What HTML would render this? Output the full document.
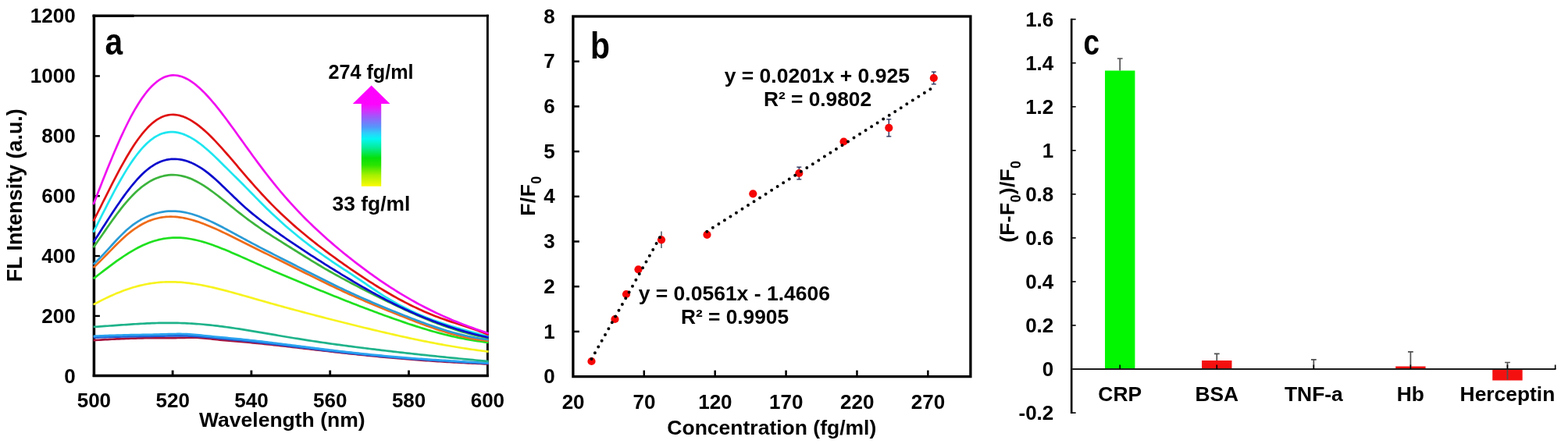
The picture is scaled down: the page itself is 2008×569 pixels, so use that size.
<!DOCTYPE html>
<html lang="en">
<head>
<meta charset="utf-8">
<title>Figure</title>
<style>
html,body{margin:0;padding:0;background:#fff;}
body{width:2008px;height:569px;overflow:hidden;}
svg{display:block;font-family:"Liberation Sans", sans-serif;}
text{fill:#000;}
</style>
</head>
<body>
<svg width="2008" height="569" viewBox="0 0 2008 569">
<rect width="2008" height="569" fill="#fff"/>
<g stroke="#000" fill="none" stroke-linecap="butt">
<line x1="120.4" y1="18.8" x2="120.4" y2="483.1" stroke-width="3.5"/>
<line x1="118.7" y1="481.5" x2="625.8" y2="481.5" stroke-width="3.4"/>
<line x1="624.4" y1="18.8" x2="624.4" y2="483.1" stroke-width="2.9"/>
<line x1="118.7" y1="20.2" x2="625.8" y2="20.2" stroke-width="2.7"/>
<line x1="118.7" y1="20.4" x2="171.5" y2="20.4" stroke-width="3.2"/>
</g>
<g stroke="#000" stroke-width="2.4">
<line x1="120.6" x2="127.89999999999999" y1="404.93" y2="404.93"/>
<line x1="120.6" x2="127.89999999999999" y1="328.07" y2="328.07"/>
<line x1="120.6" x2="127.89999999999999" y1="251.20" y2="251.20"/>
<line x1="120.6" x2="127.89999999999999" y1="174.33" y2="174.33"/>
<line x1="120.6" x2="127.89999999999999" y1="97.47" y2="97.47"/>
<line x1="221.10" x2="221.10" y1="481.4" y2="474.59999999999997" stroke-width="2.8"/>
<line x1="321.90" x2="321.90" y1="481.4" y2="474.59999999999997" stroke-width="2.8"/>
<line x1="422.70" x2="422.70" y1="481.4" y2="474.59999999999997" stroke-width="2.8"/>
<line x1="523.50" x2="523.50" y1="481.4" y2="474.59999999999997" stroke-width="2.8"/>
</g>
<g fill="none" stroke-width="2.7" stroke-linejoin="round" stroke-linecap="butt">
<path d="M119.6,436.14 L122.6,435.94 L125.6,435.76 L128.6,435.57 L131.6,435.40 L134.6,435.22 L137.6,435.06 L140.6,434.90 L143.6,434.74 L146.6,434.59 L149.6,434.45 L152.6,434.31 L155.6,434.18 L158.6,434.06 L161.6,433.94 L164.6,433.83 L167.6,433.72 L170.6,433.63 L173.6,433.54 L176.6,433.46 L179.6,433.39 L182.6,433.32 L185.6,433.26 L188.6,433.21 L191.6,433.17 L194.6,433.14 L197.6,433.11 L200.6,433.09 L203.6,433.08 L206.6,433.07 L209.6,433.07 L212.6,433.07 L215.6,433.08 L218.6,433.07 L221.6,433.07 L224.6,433.05 L227.6,433.01 L230.6,432.97 L233.6,432.90 L236.6,432.83 L239.6,432.76 L242.6,432.71 L245.6,432.68 L248.6,432.69 L251.6,432.75 L254.6,432.87 L257.6,433.06 L260.6,433.30 L263.6,433.59 L266.6,433.91 L269.6,434.24 L272.6,434.58 L275.6,434.91 L278.6,435.23 L281.6,435.54 L284.6,435.83 L287.6,436.10 L290.6,436.36 L293.6,436.62 L296.6,436.88 L299.6,437.13 L302.6,437.39 L305.6,437.65 L308.6,437.91 L311.6,438.18 L314.6,438.45 L317.6,438.73 L320.6,439.02 L323.6,439.31 L326.6,439.60 L329.6,439.90 L332.6,440.20 L335.6,440.51 L338.6,440.82 L341.6,441.14 L344.6,441.46 L347.6,441.78 L350.6,442.11 L353.6,442.44 L356.6,442.77 L359.6,443.10 L362.6,443.44 L365.6,443.78 L368.6,444.12 L371.6,444.46 L374.6,444.80 L377.6,445.15 L380.6,445.50 L383.6,445.84 L386.6,446.19 L389.6,446.54 L392.6,446.89 L395.6,447.24 L398.6,447.59 L401.6,447.94 L404.6,448.29 L407.6,448.64 L410.6,448.98 L413.6,449.33 L416.6,449.68 L419.6,450.02 L422.6,450.37 L425.6,450.71 L428.6,451.05 L431.6,451.39 L434.6,451.73 L437.6,452.06 L440.6,452.39 L443.6,452.73 L446.6,453.05 L449.6,453.38 L452.6,453.70 L455.6,454.02 L458.6,454.34 L461.6,454.66 L464.6,454.97 L467.6,455.28 L470.6,455.58 L473.6,455.89 L476.6,456.18 L479.6,456.48 L482.6,456.77 L485.6,457.06 L488.6,457.35 L491.6,457.63 L494.6,457.91 L497.6,458.18 L500.6,458.45 L503.6,458.72 L506.6,458.98 L509.6,459.24 L512.6,459.50 L515.6,459.75 L518.6,460.00 L521.6,460.24 L524.6,460.48 L527.6,460.72 L530.6,460.95 L533.6,461.18 L536.6,461.41 L539.6,461.63 L542.6,461.85 L545.6,462.06 L548.6,462.27 L551.6,462.48 L554.6,462.68 L557.6,462.88 L560.6,463.07 L563.6,463.26 L566.6,463.45 L569.6,463.64 L572.6,463.82 L575.6,464.00 L578.6,464.17 L581.6,464.34 L584.6,464.51 L587.6,464.67 L590.6,464.83 L593.6,464.99 L596.6,465.15 L599.6,465.30 L602.6,465.45 L605.6,465.59 L608.6,465.73 L611.6,465.87 L614.6,466.01 L617.6,466.14 L620.6,466.28 L623.6,466.40 L625.6,466.49" stroke="#a5123c"/>
<path d="M119.6,432.45 L122.6,432.36 L125.6,432.28 L128.6,432.19 L131.6,432.11 L134.6,432.03 L137.6,431.95 L140.6,431.87 L143.6,431.79 L146.6,431.71 L149.6,431.64 L152.6,431.56 L155.6,431.49 L158.6,431.43 L161.6,431.36 L164.6,431.30 L167.6,431.24 L170.6,431.19 L173.6,431.13 L176.6,431.08 L179.6,431.03 L182.6,430.99 L185.6,430.94 L188.6,430.90 L191.6,430.86 L194.6,430.81 L197.6,430.77 L200.6,430.72 L203.6,430.67 L206.6,430.62 L209.6,430.57 L212.6,430.52 L215.6,430.47 L218.6,430.42 L221.6,430.38 L224.6,430.35 L227.6,430.33 L230.6,430.33 L233.6,430.34 L236.6,430.38 L239.6,430.44 L242.6,430.53 L245.6,430.64 L248.6,430.79 L251.6,430.96 L254.6,431.15 L257.6,431.37 L260.6,431.61 L263.6,431.87 L266.6,432.14 L269.6,432.42 L272.6,432.71 L275.6,433.00 L278.6,433.30 L281.6,433.60 L284.6,433.90 L287.6,434.20 L290.6,434.49 L293.6,434.79 L296.6,435.09 L299.6,435.38 L302.6,435.68 L305.6,435.98 L308.6,436.28 L311.6,436.58 L314.6,436.89 L317.6,437.20 L320.6,437.52 L323.6,437.84 L326.6,438.16 L329.6,438.49 L332.6,438.82 L335.6,439.16 L338.6,439.50 L341.6,439.84 L344.6,440.19 L347.6,440.54 L350.6,440.90 L353.6,441.25 L356.6,441.61 L359.6,441.97 L362.6,442.34 L365.6,442.70 L368.6,443.07 L371.6,443.44 L374.6,443.81 L377.6,444.18 L380.6,444.55 L383.6,444.92 L386.6,445.29 L389.6,445.66 L392.6,446.03 L395.6,446.40 L398.6,446.76 L401.6,447.13 L404.6,447.50 L407.6,447.86 L410.6,448.22 L413.6,448.58 L416.6,448.94 L419.6,449.30 L422.6,449.65 L425.6,450.00 L428.6,450.35 L431.6,450.69 L434.6,451.03 L437.6,451.37 L440.6,451.71 L443.6,452.04 L446.6,452.37 L449.6,452.70 L452.6,453.02 L455.6,453.34 L458.6,453.65 L461.6,453.96 L464.6,454.27 L467.6,454.57 L470.6,454.87 L473.6,455.17 L476.6,455.46 L479.6,455.75 L482.6,456.03 L485.6,456.31 L488.6,456.59 L491.6,456.86 L494.6,457.13 L497.6,457.39 L500.6,457.65 L503.6,457.91 L506.6,458.16 L509.6,458.41 L512.6,458.66 L515.6,458.90 L518.6,459.14 L521.6,459.37 L524.6,459.60 L527.6,459.83 L530.6,460.06 L533.6,460.28 L536.6,460.50 L539.6,460.71 L542.6,460.92 L545.6,461.13 L548.6,461.34 L551.6,461.54 L554.6,461.74 L557.6,461.94 L560.6,462.13 L563.6,462.33 L566.6,462.52 L569.6,462.70 L572.6,462.89 L575.6,463.07 L578.6,463.25 L581.6,463.43 L584.6,463.61 L587.6,463.78 L590.6,463.95 L593.6,464.12 L596.6,464.29 L599.6,464.46 L602.6,464.62 L605.6,464.79 L608.6,464.95 L611.6,465.11 L614.6,465.27 L617.6,465.42 L620.6,465.58 L623.6,465.73 L625.6,465.84" stroke="#1f5fd6"/>
<path d="M119.6,430.73 L122.6,430.62 L125.6,430.50 L128.6,430.39 L131.6,430.28 L134.6,430.17 L137.6,430.07 L140.6,429.97 L143.6,429.87 L146.6,429.77 L149.6,429.68 L152.6,429.59 L155.6,429.50 L158.6,429.42 L161.6,429.35 L164.6,429.27 L167.6,429.21 L170.6,429.14 L173.6,429.08 L176.6,429.03 L179.6,428.98 L182.6,428.93 L185.6,428.88 L188.6,428.83 L191.6,428.78 L194.6,428.73 L197.6,428.67 L200.6,428.61 L203.6,428.54 L206.6,428.46 L209.6,428.37 L212.6,428.29 L215.6,428.20 L218.6,428.11 L221.6,428.04 L224.6,427.99 L227.6,427.96 L230.6,427.97 L233.6,428.01 L236.6,428.09 L239.6,428.22 L242.6,428.39 L245.6,428.60 L248.6,428.84 L251.6,429.11 L254.6,429.40 L257.6,429.71 L260.6,430.02 L263.6,430.33 L266.6,430.65 L269.6,430.95 L272.6,431.26 L275.6,431.55 L278.6,431.84 L281.6,432.12 L284.6,432.40 L287.6,432.68 L290.6,432.96 L293.6,433.24 L296.6,433.53 L299.6,433.82 L302.6,434.11 L305.6,434.41 L308.6,434.71 L311.6,435.02 L314.6,435.34 L317.6,435.66 L320.6,435.99 L323.6,436.32 L326.6,436.65 L329.6,437.00 L332.6,437.34 L335.6,437.69 L338.6,438.05 L341.6,438.41 L344.6,438.77 L347.6,439.13 L350.6,439.50 L353.6,439.87 L356.6,440.24 L359.6,440.62 L362.6,441.00 L365.6,441.38 L368.6,441.76 L371.6,442.14 L374.6,442.52 L377.6,442.90 L380.6,443.28 L383.6,443.67 L386.6,444.05 L389.6,444.43 L392.6,444.81 L395.6,445.19 L398.6,445.57 L401.6,445.95 L404.6,446.33 L407.6,446.71 L410.6,447.08 L413.6,447.45 L416.6,447.82 L419.6,448.19 L422.6,448.55 L425.6,448.91 L428.6,449.27 L431.6,449.63 L434.6,449.98 L437.6,450.33 L440.6,450.68 L443.6,451.02 L446.6,451.36 L449.6,451.70 L452.6,452.03 L455.6,452.36 L458.6,452.68 L461.6,453.00 L464.6,453.32 L467.6,453.63 L470.6,453.94 L473.6,454.25 L476.6,454.55 L479.6,454.85 L482.6,455.14 L485.6,455.43 L488.6,455.71 L491.6,455.99 L494.6,456.27 L497.6,456.54 L500.6,456.81 L503.6,457.08 L506.6,457.34 L509.6,457.59 L512.6,457.85 L515.6,458.09 L518.6,458.34 L521.6,458.58 L524.6,458.82 L527.6,459.05 L530.6,459.28 L533.6,459.51 L536.6,459.73 L539.6,459.95 L542.6,460.17 L545.6,460.38 L548.6,460.59 L551.6,460.80 L554.6,461.00 L557.6,461.20 L560.6,461.40 L563.6,461.59 L566.6,461.79 L569.6,461.97 L572.6,462.16 L575.6,462.34 L578.6,462.53 L581.6,462.70 L584.6,462.88 L587.6,463.05 L590.6,463.23 L593.6,463.40 L596.6,463.56 L599.6,463.73 L602.6,463.89 L605.6,464.05 L608.6,464.21 L611.6,464.37 L614.6,464.53 L617.6,464.68 L620.6,464.83 L623.6,464.98 L625.6,465.08" stroke="#2aa3f0"/>
<path d="M119.6,418.93 L122.6,418.74 L125.6,418.55 L128.6,418.35 L131.6,418.14 L134.6,417.94 L137.6,417.73 L140.6,417.51 L143.6,417.30 L146.6,417.08 L149.6,416.87 L152.6,416.66 L155.6,416.44 L158.6,416.23 L161.6,416.03 L164.6,415.82 L167.6,415.63 L170.6,415.43 L173.6,415.25 L176.6,415.07 L179.6,414.90 L182.6,414.74 L185.6,414.59 L188.6,414.45 L191.6,414.32 L194.6,414.20 L197.6,414.10 L200.6,414.01 L203.6,413.93 L206.6,413.87 L209.6,413.83 L212.6,413.80 L215.6,413.79 L218.6,413.79 L221.6,413.81 L224.6,413.85 L227.6,413.91 L230.6,413.99 L233.6,414.08 L236.6,414.19 L239.6,414.33 L242.6,414.48 L245.6,414.65 L248.6,414.83 L251.6,415.04 L254.6,415.26 L257.6,415.51 L260.6,415.76 L263.6,416.04 L266.6,416.34 L269.6,416.65 L272.6,416.97 L275.6,417.31 L278.6,417.67 L281.6,418.04 L284.6,418.42 L287.6,418.82 L290.6,419.23 L293.6,419.65 L296.6,420.09 L299.6,420.53 L302.6,420.98 L305.6,421.44 L308.6,421.91 L311.6,422.39 L314.6,422.87 L317.6,423.36 L320.6,423.85 L323.6,424.35 L326.6,424.85 L329.6,425.36 L332.6,425.87 L335.6,426.38 L338.6,426.89 L341.6,427.40 L344.6,427.92 L347.6,428.43 L350.6,428.94 L353.6,429.45 L356.6,429.96 L359.6,430.47 L362.6,430.97 L365.6,431.48 L368.6,431.98 L371.6,432.47 L374.6,432.97 L377.6,433.46 L380.6,433.94 L383.6,434.42 L386.6,434.90 L389.6,435.37 L392.6,435.84 L395.6,436.31 L398.6,436.77 L401.6,437.23 L404.6,437.68 L407.6,438.12 L410.6,438.57 L413.6,439.01 L416.6,439.44 L419.6,439.87 L422.6,440.30 L425.6,440.72 L428.6,441.13 L431.6,441.55 L434.6,441.96 L437.6,442.36 L440.6,442.77 L443.6,443.17 L446.6,443.56 L449.6,443.95 L452.6,444.34 L455.6,444.73 L458.6,445.11 L461.6,445.49 L464.6,445.87 L467.6,446.24 L470.6,446.61 L473.6,446.98 L476.6,447.35 L479.6,447.71 L482.6,448.07 L485.6,448.43 L488.6,448.79 L491.6,449.14 L494.6,449.50 L497.6,449.85 L500.6,450.19 L503.6,450.54 L506.6,450.89 L509.6,451.23 L512.6,451.57 L515.6,451.91 L518.6,452.24 L521.6,452.58 L524.6,452.91 L527.6,453.24 L530.6,453.57 L533.6,453.90 L536.6,454.22 L539.6,454.55 L542.6,454.87 L545.6,455.19 L548.6,455.51 L551.6,455.82 L554.6,456.14 L557.6,456.45 L560.6,456.76 L563.6,457.07 L566.6,457.38 L569.6,457.68 L572.6,457.99 L575.6,458.29 L578.6,458.59 L581.6,458.89 L584.6,459.18 L587.6,459.48 L590.6,459.77 L593.6,460.06 L596.6,460.35 L599.6,460.64 L602.6,460.92 L605.6,461.21 L608.6,461.49 L611.6,461.77 L614.6,462.05 L617.6,462.32 L620.6,462.60 L623.6,462.87 L625.6,463.05" stroke="#1fb38a"/>
<path d="M119.6,390.38 L122.6,388.77 L125.6,387.19 L128.6,385.64 L131.6,384.13 L134.6,382.65 L137.6,381.21 L140.6,379.80 L143.6,378.44 L146.6,377.13 L149.6,375.85 L152.6,374.63 L155.6,373.45 L158.6,372.32 L161.6,371.24 L164.6,370.21 L167.6,369.24 L170.6,368.32 L173.6,367.45 L176.6,366.64 L179.6,365.89 L182.6,365.19 L185.6,364.55 L188.6,363.97 L191.6,363.44 L194.6,362.98 L197.6,362.57 L200.6,362.22 L203.6,361.92 L206.6,361.69 L209.6,361.51 L212.6,361.38 L215.6,361.31 L218.6,361.29 L221.6,361.32 L224.6,361.41 L227.6,361.54 L230.6,361.72 L233.6,361.95 L236.6,362.23 L239.6,362.55 L242.6,362.91 L245.6,363.31 L248.6,363.75 L251.6,364.22 L254.6,364.73 L257.6,365.28 L260.6,365.85 L263.6,366.46 L266.6,367.09 L269.6,367.74 L272.6,368.43 L275.6,369.13 L278.6,369.85 L281.6,370.59 L284.6,371.35 L287.6,372.13 L290.6,372.92 L293.6,373.72 L296.6,374.53 L299.6,375.35 L302.6,376.18 L305.6,377.02 L308.6,377.86 L311.6,378.71 L314.6,379.56 L317.6,380.41 L320.6,381.26 L323.6,382.12 L326.6,382.98 L329.6,383.84 L332.6,384.69 L335.6,385.55 L338.6,386.40 L341.6,387.25 L344.6,388.10 L347.6,388.94 L350.6,389.79 L353.6,390.62 L356.6,391.46 L359.6,392.29 L362.6,393.12 L365.6,393.94 L368.6,394.77 L371.6,395.58 L374.6,396.40 L377.6,397.21 L380.6,398.01 L383.6,398.81 L386.6,399.61 L389.6,400.41 L392.6,401.20 L395.6,401.99 L398.6,402.78 L401.6,403.56 L404.6,404.34 L407.6,405.12 L410.6,405.90 L413.6,406.67 L416.6,407.44 L419.6,408.21 L422.6,408.97 L425.6,409.74 L428.6,410.50 L431.6,411.26 L434.6,412.02 L437.6,412.77 L440.6,413.52 L443.6,414.27 L446.6,415.02 L449.6,415.77 L452.6,416.51 L455.6,417.25 L458.6,417.99 L461.6,418.72 L464.6,419.46 L467.6,420.19 L470.6,420.91 L473.6,421.64 L476.6,422.36 L479.6,423.08 L482.6,423.79 L485.6,424.50 L488.6,425.21 L491.6,425.91 L494.6,426.61 L497.6,427.30 L500.6,427.99 L503.6,428.68 L506.6,429.36 L509.6,430.03 L512.6,430.70 L515.6,431.36 L518.6,432.02 L521.6,432.68 L524.6,433.32 L527.6,433.96 L530.6,434.60 L533.6,435.23 L536.6,435.85 L539.6,436.46 L542.6,437.07 L545.6,437.67 L548.6,438.27 L551.6,438.85 L554.6,439.43 L557.6,440.00 L560.6,440.57 L563.6,441.12 L566.6,441.67 L569.6,442.21 L572.6,442.74 L575.6,443.26 L578.6,443.77 L581.6,444.28 L584.6,444.78 L587.6,445.26 L590.6,445.74 L593.6,446.21 L596.6,446.67 L599.6,447.12 L602.6,447.56 L605.6,447.99 L608.6,448.42 L611.6,448.83 L614.6,449.23 L617.6,449.63 L620.6,450.01 L623.6,450.38 L625.6,450.63" stroke="#f7f320"/>
<path d="M119.6,357.19 L122.6,354.87 L125.6,352.54 L128.6,350.22 L131.6,347.90 L134.6,345.60 L137.6,343.31 L140.6,341.05 L143.6,338.82 L146.6,336.62 L149.6,334.45 L152.6,332.34 L155.6,330.27 L158.6,328.25 L161.6,326.29 L164.6,324.40 L167.6,322.57 L170.6,320.82 L173.6,319.14 L176.6,317.54 L179.6,316.02 L182.6,314.59 L185.6,313.25 L188.6,312.00 L191.6,310.84 L194.6,309.78 L197.6,308.81 L200.6,307.95 L203.6,307.18 L206.6,306.51 L209.6,305.95 L212.6,305.48 L215.6,305.11 L218.6,304.84 L221.6,304.66 L224.6,304.58 L227.6,304.59 L230.6,304.70 L233.6,304.89 L236.6,305.17 L239.6,305.53 L242.6,305.98 L245.6,306.50 L248.6,307.09 L251.6,307.75 L254.6,308.48 L257.6,309.27 L260.6,310.13 L263.6,311.04 L266.6,311.99 L269.6,313.00 L272.6,314.05 L275.6,315.15 L278.6,316.28 L281.6,317.44 L284.6,318.63 L287.6,319.85 L290.6,321.09 L293.6,322.36 L296.6,323.64 L299.6,324.93 L302.6,326.24 L305.6,327.56 L308.6,328.88 L311.6,330.21 L314.6,331.55 L317.6,332.89 L320.6,334.22 L323.6,335.56 L326.6,336.89 L329.6,338.23 L332.6,339.55 L335.6,340.88 L338.6,342.20 L341.6,343.51 L344.6,344.82 L347.6,346.12 L350.6,347.41 L353.6,348.70 L356.6,349.99 L359.6,351.27 L362.6,352.54 L365.6,353.81 L368.6,355.07 L371.6,356.33 L374.6,357.58 L377.6,358.84 L380.6,360.08 L383.6,361.33 L386.6,362.57 L389.6,363.80 L392.6,365.04 L395.6,366.27 L398.6,367.50 L401.6,368.73 L404.6,369.95 L407.6,371.17 L410.6,372.40 L413.6,373.61 L416.6,374.83 L419.6,376.04 L422.6,377.26 L425.6,378.47 L428.6,379.67 L431.6,380.87 L434.6,382.07 L437.6,383.27 L440.6,384.46 L443.6,385.65 L446.6,386.83 L449.6,388.00 L452.6,389.18 L455.6,390.34 L458.6,391.51 L461.6,392.66 L464.6,393.81 L467.6,394.96 L470.6,396.10 L473.6,397.23 L476.6,398.36 L479.6,399.48 L482.6,400.60 L485.6,401.71 L488.6,402.81 L491.6,403.90 L494.6,404.99 L497.6,406.07 L500.6,407.14 L503.6,408.20 L506.6,409.26 L509.6,410.30 L512.6,411.34 L515.6,412.37 L518.6,413.39 L521.6,414.41 L524.6,415.41 L527.6,416.40 L530.6,417.38 L533.6,418.34 L536.6,419.29 L539.6,420.23 L542.6,421.15 L545.6,422.06 L548.6,422.95 L551.6,423.83 L554.6,424.69 L557.6,425.52 L560.6,426.35 L563.6,427.15 L566.6,427.93 L569.6,428.69 L572.6,429.43 L575.6,430.16 L578.6,430.85 L581.6,431.53 L584.6,432.19 L587.6,432.82 L590.6,433.43 L593.6,434.02 L596.6,434.59 L599.6,435.13 L602.6,435.65 L605.6,436.15 L608.6,436.63 L611.6,437.09 L614.6,437.52 L617.6,437.94 L620.6,438.33 L623.6,438.71 L625.6,438.95" stroke="#1fe01f"/>
<path d="M119.6,342.97 L122.6,340.18 L125.6,337.31 L128.6,334.35 L131.6,331.35 L134.6,328.30 L137.6,325.23 L140.6,322.15 L143.6,319.08 L146.6,316.05 L149.6,313.05 L152.6,310.11 L155.6,307.26 L158.6,304.49 L161.6,301.83 L164.6,299.29 L167.6,296.89 L170.6,294.64 L173.6,292.52 L176.6,290.55 L179.6,288.73 L182.6,287.05 L185.6,285.51 L188.6,284.11 L191.6,282.86 L194.6,281.75 L197.6,280.77 L200.6,279.94 L203.6,279.24 L206.6,278.68 L209.6,278.24 L212.6,277.94 L215.6,277.75 L218.6,277.69 L221.6,277.74 L224.6,277.91 L227.6,278.18 L230.6,278.56 L233.6,279.03 L236.6,279.59 L239.6,280.24 L242.6,280.97 L245.6,281.77 L248.6,282.65 L251.6,283.59 L254.6,284.59 L257.6,285.66 L260.6,286.78 L263.6,287.94 L266.6,289.16 L269.6,290.41 L272.6,291.71 L275.6,293.03 L278.6,294.39 L281.6,295.77 L284.6,297.18 L287.6,298.61 L290.6,300.05 L293.6,301.51 L296.6,302.98 L299.6,304.46 L302.6,305.95 L305.6,307.45 L308.6,308.94 L311.6,310.44 L314.6,311.95 L317.6,313.45 L320.6,314.95 L323.6,316.45 L326.6,317.95 L329.6,319.44 L332.6,320.94 L335.6,322.43 L338.6,323.92 L341.6,325.40 L344.6,326.89 L347.6,328.37 L350.6,329.85 L353.6,331.33 L356.6,332.81 L359.6,334.29 L362.6,335.78 L365.6,337.26 L368.6,338.74 L371.6,340.23 L374.6,341.72 L377.6,343.21 L380.6,344.70 L383.6,346.19 L386.6,347.68 L389.6,349.18 L392.6,350.67 L395.6,352.16 L398.6,353.64 L401.6,355.13 L404.6,356.61 L407.6,358.09 L410.6,359.57 L413.6,361.04 L416.6,362.51 L419.6,363.97 L422.6,365.42 L425.6,366.86 L428.6,368.30 L431.6,369.72 L434.6,371.14 L437.6,372.54 L440.6,373.94 L443.6,375.32 L446.6,376.68 L449.6,378.03 L452.6,379.38 L455.6,380.71 L458.6,382.03 L461.6,383.34 L464.6,384.63 L467.6,385.92 L470.6,387.21 L473.6,388.48 L476.6,389.74 L479.6,391.00 L482.6,392.24 L485.6,393.48 L488.6,394.72 L491.6,395.94 L494.6,397.17 L497.6,398.38 L500.6,399.59 L503.6,400.80 L506.6,402.00 L509.6,403.20 L512.6,404.39 L515.6,405.59 L518.6,406.77 L521.6,407.96 L524.6,409.14 L527.6,410.31 L530.6,411.47 L533.6,412.63 L536.6,413.77 L539.6,414.90 L542.6,416.02 L545.6,417.12 L548.6,418.21 L551.6,419.28 L554.6,420.32 L557.6,421.35 L560.6,422.36 L563.6,423.35 L566.6,424.31 L569.6,425.24 L572.6,426.15 L575.6,427.04 L578.6,427.89 L581.6,428.72 L584.6,429.51 L587.6,430.27 L590.6,431.00 L593.6,431.70 L596.6,432.36 L599.6,432.98 L602.6,433.57 L605.6,434.12 L608.6,434.63 L611.6,435.10 L614.6,435.53 L617.6,435.92 L620.6,436.27 L623.6,436.57 L625.6,436.74" stroke="#ef6c1a"/>
<path d="M119.6,338.83 L122.6,336.00 L125.6,333.05 L128.6,329.98 L131.6,326.82 L134.6,323.60 L137.6,320.33 L140.6,317.05 L143.6,313.76 L146.6,310.50 L149.6,307.29 L152.6,304.15 L155.6,301.10 L158.6,298.16 L161.6,295.36 L164.6,292.71 L167.6,290.24 L170.6,287.94 L173.6,285.82 L176.6,283.86 L179.6,282.05 L182.6,280.39 L185.6,278.88 L188.6,277.50 L191.6,276.24 L194.6,275.11 L197.6,274.11 L200.6,273.22 L203.6,272.47 L206.6,271.83 L209.6,271.33 L212.6,270.94 L215.6,270.68 L218.6,270.54 L221.6,270.52 L224.6,270.62 L227.6,270.83 L230.6,271.15 L233.6,271.58 L236.6,272.12 L239.6,272.75 L242.6,273.49 L245.6,274.31 L248.6,275.23 L251.6,276.22 L254.6,277.29 L257.6,278.44 L260.6,279.65 L263.6,280.91 L266.6,282.24 L269.6,283.61 L272.6,285.03 L275.6,286.49 L278.6,287.99 L281.6,289.52 L284.6,291.07 L287.6,292.65 L290.6,294.24 L293.6,295.85 L296.6,297.47 L299.6,299.09 L302.6,300.73 L305.6,302.36 L308.6,303.99 L311.6,305.62 L314.6,307.24 L317.6,308.86 L320.6,310.47 L323.6,312.07 L326.6,313.66 L329.6,315.24 L332.6,316.82 L335.6,318.38 L338.6,319.94 L341.6,321.49 L344.6,323.03 L347.6,324.57 L350.6,326.10 L353.6,327.63 L356.6,329.15 L359.6,330.68 L362.6,332.20 L365.6,333.72 L368.6,335.24 L371.6,336.77 L374.6,338.30 L377.6,339.82 L380.6,341.35 L383.6,342.88 L386.6,344.40 L389.6,345.93 L392.6,347.45 L395.6,348.98 L398.6,350.50 L401.6,352.02 L404.6,353.53 L407.6,355.05 L410.6,356.55 L413.6,358.06 L416.6,359.56 L419.6,361.05 L422.6,362.53 L425.6,364.01 L428.6,365.48 L431.6,366.94 L434.6,368.38 L437.6,369.82 L440.6,371.24 L443.6,372.65 L446.6,374.05 L449.6,375.44 L452.6,376.81 L455.6,378.17 L458.6,379.52 L461.6,380.86 L464.6,382.19 L467.6,383.50 L470.6,384.81 L473.6,386.11 L476.6,387.40 L479.6,388.68 L482.6,389.95 L485.6,391.21 L488.6,392.47 L491.6,393.72 L494.6,394.96 L497.6,396.19 L500.6,397.41 L503.6,398.63 L506.6,399.84 L509.6,401.05 L512.6,402.25 L515.6,403.45 L518.6,404.64 L521.6,405.83 L524.6,407.00 L527.6,408.17 L530.6,409.33 L533.6,410.48 L536.6,411.62 L539.6,412.74 L542.6,413.85 L545.6,414.94 L548.6,416.02 L551.6,417.08 L554.6,418.12 L557.6,419.15 L560.6,420.15 L563.6,421.13 L566.6,422.09 L569.6,423.03 L572.6,423.94 L575.6,424.83 L578.6,425.69 L581.6,426.53 L584.6,427.34 L587.6,428.12 L590.6,428.87 L593.6,429.60 L596.6,430.29 L599.6,430.95 L602.6,431.58 L605.6,432.17 L608.6,432.74 L611.6,433.26 L614.6,433.76 L617.6,434.22 L620.6,434.64 L623.6,435.02 L625.6,435.26" stroke="#2a9bd6"/>
<path d="M119.6,317.13 L122.6,312.88 L125.6,308.60 L128.6,304.29 L131.6,299.96 L134.6,295.63 L137.6,291.33 L140.6,287.05 L143.6,282.82 L146.6,278.66 L149.6,274.57 L152.6,270.58 L155.6,266.70 L158.6,262.95 L161.6,259.33 L164.6,255.87 L167.6,252.57 L170.6,249.45 L173.6,246.51 L176.6,243.75 L179.6,241.17 L182.6,238.77 L185.6,236.56 L188.6,234.54 L191.6,232.69 L194.6,231.04 L197.6,229.56 L200.6,228.27 L203.6,227.15 L206.6,226.21 L209.6,225.44 L212.6,224.85 L215.6,224.44 L218.6,224.20 L221.6,224.14 L224.6,224.25 L227.6,224.53 L230.6,224.98 L233.6,225.59 L236.6,226.37 L239.6,227.29 L242.6,228.37 L245.6,229.59 L248.6,230.96 L251.6,232.45 L254.6,234.08 L257.6,235.82 L260.6,237.67 L263.6,239.63 L266.6,241.67 L269.6,243.79 L272.6,245.97 L275.6,248.22 L278.6,250.52 L281.6,252.86 L284.6,255.23 L287.6,257.63 L290.6,260.04 L293.6,262.46 L296.6,264.88 L299.6,267.29 L302.6,269.69 L305.6,272.07 L308.6,274.43 L311.6,276.76 L314.6,279.05 L317.6,281.31 L320.6,283.52 L323.6,285.69 L326.6,287.83 L329.6,289.93 L332.6,292.00 L335.6,294.04 L338.6,296.04 L341.6,298.02 L344.6,299.97 L347.6,301.90 L350.6,303.82 L353.6,305.72 L356.6,307.60 L359.6,309.48 L362.6,311.36 L365.6,313.24 L368.6,315.11 L371.6,316.99 L374.6,318.87 L377.6,320.75 L380.6,322.63 L383.6,324.51 L386.6,326.38 L389.6,328.24 L392.6,330.10 L395.6,331.95 L398.6,333.79 L401.6,335.62 L404.6,337.44 L407.6,339.24 L410.6,341.03 L413.6,342.80 L416.6,344.55 L419.6,346.28 L422.6,347.99 L425.6,349.68 L428.6,351.36 L431.6,353.02 L434.6,354.67 L437.6,356.31 L440.6,357.93 L443.6,359.53 L446.6,361.13 L449.6,362.72 L452.6,364.29 L455.6,365.86 L458.6,367.41 L461.6,368.96 L464.6,370.50 L467.6,372.03 L470.6,373.55 L473.6,375.07 L476.6,376.57 L479.6,378.07 L482.6,379.57 L485.6,381.06 L488.6,382.54 L491.6,384.02 L494.6,385.49 L497.6,386.95 L500.6,388.41 L503.6,389.86 L506.6,391.30 L509.6,392.73 L512.6,394.15 L515.6,395.55 L518.6,396.95 L521.6,398.33 L524.6,399.69 L527.6,401.05 L530.6,402.38 L533.6,403.70 L536.6,405.00 L539.6,406.29 L542.6,407.55 L545.6,408.80 L548.6,410.03 L551.6,411.24 L554.6,412.42 L557.6,413.59 L560.6,414.73 L563.6,415.85 L566.6,416.95 L569.6,418.02 L572.6,419.07 L575.6,420.09 L578.6,421.09 L581.6,422.07 L584.6,423.02 L587.6,423.94 L590.6,424.84 L593.6,425.71 L596.6,426.55 L599.6,427.36 L602.6,428.15 L605.6,428.91 L608.6,429.64 L611.6,430.34 L614.6,431.02 L617.6,431.66 L620.6,432.28 L623.6,432.87 L625.6,433.24" stroke="#3cb43c"/>
<path d="M119.6,297.52 L122.6,291.58 L125.6,285.63 L128.6,279.67 L131.6,273.73 L134.6,267.81 L137.6,261.93 L140.6,256.11 L143.6,250.37 L146.6,244.72 L149.6,239.18 L152.6,233.76 L155.6,228.47 L158.6,223.34 L161.6,218.38 L164.6,213.60 L167.6,209.01 L170.6,204.63 L173.6,200.46 L176.6,196.53 L179.6,192.84 L182.6,189.40 L185.6,186.21 L188.6,183.30 L191.6,180.65 L194.6,178.29 L197.6,176.20 L200.6,174.39 L203.6,172.86 L206.6,171.59 L209.6,170.59 L212.6,169.86 L215.6,169.38 L218.6,169.15 L221.6,169.17 L224.6,169.42 L227.6,169.90 L230.6,170.60 L233.6,171.51 L236.6,172.62 L239.6,173.93 L242.6,175.42 L245.6,177.08 L248.6,178.91 L251.6,180.90 L254.6,183.03 L257.6,185.29 L260.6,187.68 L263.6,190.19 L266.6,192.80 L269.6,195.50 L272.6,198.28 L275.6,201.13 L278.6,204.03 L281.6,206.97 L284.6,209.94 L287.6,212.92 L290.6,215.91 L293.6,218.89 L296.6,221.87 L299.6,224.85 L302.6,227.83 L305.6,230.81 L308.6,233.81 L311.6,236.81 L314.6,239.84 L317.6,242.89 L320.6,245.95 L323.6,249.02 L326.6,252.09 L329.6,255.15 L332.6,258.20 L335.6,261.22 L338.6,264.21 L341.6,267.17 L344.6,270.09 L347.6,272.97 L350.6,275.80 L353.6,278.60 L356.6,281.36 L359.6,284.08 L362.6,286.75 L365.6,289.39 L368.6,291.99 L371.6,294.56 L374.6,297.09 L377.6,299.58 L380.6,302.04 L383.6,304.46 L386.6,306.85 L389.6,309.21 L392.6,311.54 L395.6,313.84 L398.6,316.10 L401.6,318.34 L404.6,320.55 L407.6,322.74 L410.6,324.89 L413.6,327.02 L416.6,329.12 L419.6,331.19 L422.6,333.25 L425.6,335.28 L428.6,337.30 L431.6,339.30 L434.6,341.29 L437.6,343.28 L440.6,345.26 L443.6,347.24 L446.6,349.21 L449.6,351.19 L452.6,353.18 L455.6,355.17 L458.6,357.17 L461.6,359.17 L464.6,361.20 L467.6,363.23 L470.6,365.28 L473.6,367.33 L476.6,369.37 L479.6,371.41 L482.6,373.42 L485.6,375.40 L488.6,377.36 L491.6,379.27 L494.6,381.14 L497.6,382.96 L500.6,384.74 L503.6,386.48 L506.6,388.18 L509.6,389.83 L512.6,391.45 L515.6,393.03 L518.6,394.56 L521.6,396.06 L524.6,397.52 L527.6,398.94 L530.6,400.32 L533.6,401.67 L536.6,402.98 L539.6,404.26 L542.6,405.51 L545.6,406.72 L548.6,407.90 L551.6,409.06 L554.6,410.18 L557.6,411.27 L560.6,412.34 L563.6,413.37 L566.6,414.39 L569.6,415.38 L572.6,416.35 L575.6,417.29 L578.6,418.22 L581.6,419.12 L584.6,420.01 L587.6,420.88 L590.6,421.74 L593.6,422.58 L596.6,423.41 L599.6,424.23 L602.6,425.04 L605.6,425.84 L608.6,426.64 L611.6,427.43 L614.6,428.21 L617.6,429.00 L620.6,429.79 L623.6,430.57 L625.6,431.10" stroke="#1fe6f0"/>
<path d="M119.6,310.46 L122.6,305.82 L125.6,301.17 L128.6,296.50 L131.6,291.83 L134.6,287.16 L137.6,282.51 L140.6,277.88 L143.6,273.30 L146.6,268.76 L149.6,264.29 L152.6,259.90 L155.6,255.59 L158.6,251.39 L161.6,247.30 L164.6,243.33 L167.6,239.50 L170.6,235.83 L173.6,232.31 L176.6,228.96 L179.6,225.80 L182.6,222.82 L185.6,220.05 L188.6,217.49 L191.6,215.14 L194.6,213.02 L197.6,211.11 L200.6,209.43 L203.6,207.98 L206.6,206.75 L209.6,205.73 L212.6,204.93 L215.6,204.35 L218.6,203.97 L221.6,203.79 L224.6,203.80 L227.6,204.00 L230.6,204.38 L233.6,204.93 L236.6,205.66 L239.6,206.56 L242.6,207.63 L245.6,208.87 L248.6,210.27 L251.6,211.84 L254.6,213.56 L257.6,215.43 L260.6,217.45 L263.6,219.62 L266.6,221.92 L269.6,224.35 L272.6,226.90 L275.6,229.54 L278.6,232.27 L281.6,235.06 L284.6,237.90 L287.6,240.79 L290.6,243.70 L293.6,246.62 L296.6,249.54 L299.6,252.45 L302.6,255.34 L305.6,258.20 L308.6,261.01 L311.6,263.76 L314.6,266.45 L317.6,269.08 L320.6,271.63 L323.6,274.12 L326.6,276.55 L329.6,278.93 L332.6,281.26 L335.6,283.55 L338.6,285.82 L341.6,288.06 L344.6,290.27 L347.6,292.47 L350.6,294.65 L353.6,296.81 L356.6,298.94 L359.6,301.06 L362.6,303.17 L365.6,305.25 L368.6,307.32 L371.6,309.37 L374.6,311.41 L377.6,313.43 L380.6,315.44 L383.6,317.44 L386.6,319.43 L389.6,321.41 L392.6,323.37 L395.6,325.33 L398.6,327.28 L401.6,329.22 L404.6,331.15 L407.6,333.07 L410.6,334.98 L413.6,336.89 L416.6,338.78 L419.6,340.67 L422.6,342.54 L425.6,344.41 L428.6,346.27 L431.6,348.12 L434.6,349.96 L437.6,351.79 L440.6,353.61 L443.6,355.42 L446.6,357.23 L449.6,359.02 L452.6,360.80 L455.6,362.57 L458.6,364.33 L461.6,366.08 L464.6,367.81 L467.6,369.53 L470.6,371.24 L473.6,372.93 L476.6,374.61 L479.6,376.27 L482.6,377.92 L485.6,379.55 L488.6,381.16 L491.6,382.75 L494.6,384.33 L497.6,385.88 L500.6,387.42 L503.6,388.93 L506.6,390.43 L509.6,391.90 L512.6,393.36 L515.6,394.79 L518.6,396.20 L521.6,397.59 L524.6,398.96 L527.6,400.31 L530.6,401.63 L533.6,402.94 L536.6,404.22 L539.6,405.48 L542.6,406.71 L545.6,407.93 L548.6,409.12 L551.6,410.29 L554.6,411.44 L557.6,412.56 L560.6,413.67 L563.6,414.75 L566.6,415.81 L569.6,416.84 L572.6,417.86 L575.6,418.86 L578.6,419.83 L581.6,420.78 L584.6,421.72 L587.6,422.63 L590.6,423.52 L593.6,424.39 L596.6,425.25 L599.6,426.08 L602.6,426.90 L605.6,427.70 L608.6,428.48 L611.6,429.24 L614.6,429.99 L617.6,430.72 L620.6,431.43 L623.6,432.13 L625.6,432.59" stroke="#0a0acd"/>
<path d="M119.6,283.35 L122.6,277.44 L125.6,271.50 L128.6,265.52 L131.6,259.52 L134.6,253.53 L137.6,247.55 L140.6,241.61 L143.6,235.71 L146.6,229.88 L149.6,224.13 L152.6,218.48 L155.6,212.95 L158.6,207.54 L161.6,202.29 L164.6,197.20 L167.6,192.29 L170.6,187.57 L173.6,183.05 L176.6,178.76 L179.6,174.71 L182.6,170.89 L185.6,167.34 L188.6,164.05 L191.6,161.04 L194.6,158.31 L197.6,155.87 L200.6,153.72 L203.6,151.86 L206.6,150.30 L209.6,149.04 L212.6,148.07 L215.6,147.39 L218.6,147.01 L221.6,146.90 L224.6,147.07 L227.6,147.50 L230.6,148.18 L233.6,149.10 L236.6,150.24 L239.6,151.59 L242.6,153.15 L245.6,154.89 L248.6,156.82 L251.6,158.91 L254.6,161.17 L257.6,163.58 L260.6,166.13 L263.6,168.81 L266.6,171.61 L269.6,174.53 L272.6,177.55 L275.6,180.65 L278.6,183.85 L281.6,187.11 L284.6,190.44 L287.6,193.82 L290.6,197.24 L293.6,200.71 L296.6,204.20 L299.6,207.72 L302.6,211.24 L305.6,214.77 L308.6,218.29 L311.6,221.81 L314.6,225.31 L317.6,228.79 L320.6,232.24 L323.6,235.66 L326.6,239.05 L329.6,242.40 L332.6,245.70 L335.6,248.97 L338.6,252.19 L341.6,255.37 L344.6,258.50 L347.6,261.58 L350.6,264.62 L353.6,267.60 L356.6,270.54 L359.6,273.44 L362.6,276.28 L365.6,279.09 L368.6,281.85 L371.6,284.57 L374.6,287.24 L377.6,289.88 L380.6,292.48 L383.6,295.04 L386.6,297.57 L389.6,300.07 L392.6,302.54 L395.6,304.97 L398.6,307.38 L401.6,309.76 L404.6,312.12 L407.6,314.45 L410.6,316.76 L413.6,319.05 L416.6,321.32 L419.6,323.57 L422.6,325.79 L425.6,328.00 L428.6,330.20 L431.6,332.37 L434.6,334.53 L437.6,336.67 L440.6,338.80 L443.6,340.91 L446.6,343.00 L449.6,345.08 L452.6,347.14 L455.6,349.18 L458.6,351.21 L461.6,353.22 L464.6,355.21 L467.6,357.18 L470.6,359.13 L473.6,361.06 L476.6,362.98 L479.6,364.87 L482.6,366.74 L485.6,368.59 L488.6,370.42 L491.6,372.23 L494.6,374.01 L497.6,375.77 L500.6,377.51 L503.6,379.22 L506.6,380.90 L509.6,382.56 L512.6,384.19 L515.6,385.79 L518.6,387.37 L521.6,388.92 L524.6,390.44 L527.6,391.93 L530.6,393.39 L533.6,394.83 L536.6,396.23 L539.6,397.60 L542.6,398.94 L545.6,400.25 L548.6,401.53 L551.6,402.77 L554.6,403.99 L557.6,405.17 L560.6,406.32 L563.6,407.44 L566.6,408.52 L569.6,409.58 L572.6,410.61 L575.6,411.61 L578.6,412.60 L581.6,413.58 L584.6,414.55 L587.6,415.51 L590.6,416.47 L593.6,417.43 L596.6,418.40 L599.6,419.39 L602.6,420.39 L605.6,421.41 L608.6,422.45 L611.6,423.53 L614.6,424.64 L617.6,425.79 L620.6,426.98 L623.6,428.22 L625.6,429.07" stroke="#e01212"/>
<path d="M119.6,262.02 L122.6,254.30 L125.6,246.60 L128.6,238.94 L131.6,231.33 L134.6,223.78 L137.6,216.31 L140.6,208.95 L143.6,201.69 L146.6,194.57 L149.6,187.60 L152.6,180.79 L155.6,174.16 L158.6,167.72 L161.6,161.50 L164.6,155.49 L167.6,149.72 L170.6,144.20 L173.6,138.94 L176.6,133.95 L179.6,129.25 L182.6,124.84 L185.6,120.73 L188.6,116.93 L191.6,113.44 L194.6,110.28 L197.6,107.43 L200.6,104.91 L203.6,102.72 L206.6,100.86 L209.6,99.32 L212.6,98.12 L215.6,97.24 L218.6,96.69 L221.6,96.45 L224.6,96.52 L227.6,96.90 L230.6,97.56 L233.6,98.50 L236.6,99.71 L239.6,101.19 L242.6,102.90 L245.6,104.86 L248.6,107.03 L251.6,109.41 L254.6,111.98 L257.6,114.73 L260.6,117.66 L263.6,120.74 L266.6,123.97 L269.6,127.34 L272.6,130.83 L275.6,134.43 L278.6,138.14 L281.6,141.94 L284.6,145.82 L287.6,149.77 L290.6,153.78 L293.6,157.84 L296.6,161.95 L299.6,166.08 L302.6,170.24 L305.6,174.42 L308.6,178.60 L311.6,182.79 L314.6,186.97 L317.6,191.15 L320.6,195.30 L323.6,199.44 L326.6,203.54 L329.6,207.62 L332.6,211.65 L335.6,215.65 L338.6,219.60 L341.6,223.50 L344.6,227.36 L347.6,231.16 L350.6,234.91 L353.6,238.61 L356.6,242.25 L359.6,245.83 L362.6,249.36 L365.6,252.83 L368.6,256.25 L371.6,259.61 L374.6,262.92 L377.6,266.17 L380.6,269.38 L383.6,272.53 L386.6,275.63 L389.6,278.69 L392.6,281.69 L395.6,284.66 L398.6,287.58 L401.6,290.45 L404.6,293.29 L407.6,296.09 L410.6,298.85 L413.6,301.58 L416.6,304.27 L419.6,306.92 L422.6,309.55 L425.6,312.14 L428.6,314.71 L431.6,317.24 L434.6,319.75 L437.6,322.23 L440.6,324.69 L443.6,327.12 L446.6,329.52 L449.6,331.90 L452.6,334.26 L455.6,336.59 L458.6,338.89 L461.6,341.18 L464.6,343.43 L467.6,345.67 L470.6,347.88 L473.6,350.06 L476.6,352.22 L479.6,354.36 L482.6,356.47 L485.6,358.55 L488.6,360.61 L491.6,362.64 L494.6,364.64 L497.6,366.61 L500.6,368.56 L503.6,370.48 L506.6,372.37 L509.6,374.24 L512.6,376.08 L515.6,377.89 L518.6,379.67 L521.6,381.43 L524.6,383.16 L527.6,384.87 L530.6,386.55 L533.6,388.20 L536.6,389.82 L539.6,391.42 L542.6,392.99 L545.6,394.54 L548.6,396.06 L551.6,397.55 L554.6,399.02 L557.6,400.47 L560.6,401.88 L563.6,403.28 L566.6,404.64 L569.6,405.99 L572.6,407.31 L575.6,408.60 L578.6,409.88 L581.6,411.13 L584.6,412.35 L587.6,413.56 L590.6,414.74 L593.6,415.91 L596.6,417.05 L599.6,418.17 L602.6,419.28 L605.6,420.36 L608.6,421.43 L611.6,422.48 L614.6,423.51 L617.6,424.53 L620.6,425.54 L623.6,426.52 L625.6,427.17" stroke="#f010f0"/>
</g>
<text x="96.7" y="490.7" font-size="26" text-anchor="end" font-weight="bold">0</text>
<text x="96.7" y="413.74" font-size="26" text-anchor="end" font-weight="bold">200</text>
<text x="96.7" y="336.78" font-size="26" text-anchor="end" font-weight="bold">400</text>
<text x="96.7" y="259.82" font-size="26" text-anchor="end" font-weight="bold">600</text>
<text x="96.7" y="182.86" font-size="26" text-anchor="end" font-weight="bold">800</text>
<text x="96.7" y="105.9" font-size="26" text-anchor="end" font-weight="bold">1000</text>
<text x="96.7" y="28.94" font-size="26" text-anchor="end" font-weight="bold">1200</text>
<text x="120.4" y="522.4" font-size="26" text-anchor="middle" font-weight="bold">500</text>
<text x="221.2" y="522.4" font-size="26" text-anchor="middle" font-weight="bold">520</text>
<text x="322.0" y="522.4" font-size="26" text-anchor="middle" font-weight="bold">540</text>
<text x="422.8" y="522.4" font-size="26" text-anchor="middle" font-weight="bold">560</text>
<text x="523.6" y="522.4" font-size="26" text-anchor="middle" font-weight="bold">580</text>
<text x="624.4" y="522.4" font-size="26" text-anchor="middle" font-weight="bold">600</text>
<text x="361.3" y="547.2" font-size="26.5" text-anchor="middle" font-weight="bold">Wavelength (nm)</text>
<text transform="translate(28.3,250.3) rotate(-90)" font-size="26.9" text-anchor="middle" font-weight="bold">FL Intensity (a.u.)</text>
<text x="134.6" y="69.8" font-size="47.5" text-anchor="start" font-weight="bold" textLength="22.6" lengthAdjust="spacingAndGlyphs">a</text>
<defs><linearGradient id="ag" x1="0" y1="109.5" x2="0" y2="238.6" gradientUnits="userSpaceOnUse"><stop offset="0" stop-color="#ff00ff"/><stop offset="0.185" stop-color="#fd04fd"/><stop offset="0.245" stop-color="#d92cfb"/><stop offset="0.315" stop-color="#9a5cfa"/><stop offset="0.41" stop-color="#5696fa"/><stop offset="0.475" stop-color="#2ccffa"/><stop offset="0.53" stop-color="#04f6f4"/><stop offset="0.62" stop-color="#04ec96"/><stop offset="0.72" stop-color="#06e00a"/><stop offset="0.79" stop-color="#2ae400"/><stop offset="0.89" stop-color="#a6f000"/><stop offset="1" stop-color="#fbfb04"/></linearGradient></defs>
<path d="M475.6,109.4 L499.5,133 L488.2,133 L488.2,238.7 L462.8,238.7 L462.8,133 L451.8,133 Z" fill="url(#ag)"/>
<text x="475" y="101.2" font-size="25.2" text-anchor="middle" font-weight="bold">274 fg/ml</text>
<text x="475.4" y="269.9" font-size="26.4" text-anchor="middle" font-weight="bold">33 fg/ml</text>
<circle cx="757.5" cy="463.0" r="5.1" fill="#f50505"/>
<circle cx="787.5" cy="409.0" r="5.1" fill="#f50505"/>
<circle cx="802.0" cy="377.0" r="5.1" fill="#f50505"/>
<circle cx="817.5" cy="345.3" r="5.1" fill="#f50505"/>
<path d="M847.0,296.5 V318.1" stroke="#1a2c3a" stroke-width="1.2" fill="none"/>
<circle cx="847.0" cy="307.3" r="5.1" fill="#f50505"/>
<circle cx="905.5" cy="300.8" r="5.1" fill="#f50505"/>
<circle cx="964.3" cy="248.3" r="5.1" fill="#f50505"/>
<path d="M1023.3,214.2 V229.8 M1020.3,214.2 H1026.3 M1020.3,229.8 H1026.3" stroke="#1c2450" stroke-width="1.3" fill="none"/>
<circle cx="1023.3" cy="222.0" r="5.1" fill="#f50505"/>
<circle cx="1080.5" cy="181.5" r="5.1" fill="#f50505"/>
<path d="M1138.3,152.8 V174.8 M1135.3,152.8 H1141.3 M1135.3,174.8 H1141.3" stroke="#1c2450" stroke-width="1.3" fill="none"/>
<circle cx="1138.3" cy="163.8" r="5.1" fill="#f50505"/>
<path d="M1195.8,92.2 V107.8 M1192.8,92.2 H1198.8 M1192.8,107.8 H1198.8" stroke="#1c2450" stroke-width="1.3" fill="none"/>
<circle cx="1195.8" cy="100.0" r="5.1" fill="#f50505"/>
<line x1="757.53" y1="460.06" x2="847.70" y2="299.50" stroke="#000" stroke-width="4.0" stroke-linecap="round" stroke-dasharray="0 8.93" fill="none"/>
<line x1="905.32" y1="296.67" x2="1195.64" y2="111.45" stroke="#000" stroke-width="4.0" stroke-linecap="round" stroke-dasharray="0 8.93" fill="none"/>
<g stroke="#000" fill="none" stroke-width="3.3">
<rect x="733.9" y="21.0" width="509.0000000000001" height="461.6"/>
</g>
<g stroke="#000" stroke-width="2.5">
<line x1="733.9" x2="741.9" y1="424.90" y2="424.90"/>
<line x1="733.9" x2="741.9" y1="367.20" y2="367.20"/>
<line x1="733.9" x2="741.9" y1="309.50" y2="309.50"/>
<line x1="733.9" x2="741.9" y1="251.80" y2="251.80"/>
<line x1="733.9" x2="741.9" y1="194.10" y2="194.10"/>
<line x1="733.9" x2="741.9" y1="136.40" y2="136.40"/>
<line x1="733.9" x2="741.9" y1="78.70" y2="78.70"/>
<line x1="824.79" x2="824.79" y1="482.6" y2="474.6"/>
<line x1="915.69" x2="915.69" y1="482.6" y2="474.6"/>
<line x1="1006.58" x2="1006.58" y1="482.6" y2="474.6"/>
<line x1="1097.47" x2="1097.47" y1="482.6" y2="474.6"/>
<line x1="1188.36" x2="1188.36" y1="482.6" y2="474.6"/>
</g>
<text x="710.6" y="491.2" font-size="26" text-anchor="end" font-weight="bold">0</text>
<text x="710.6" y="433.5" font-size="26" text-anchor="end" font-weight="bold">1</text>
<text x="710.6" y="375.8" font-size="26" text-anchor="end" font-weight="bold">2</text>
<text x="710.6" y="318.1" font-size="26" text-anchor="end" font-weight="bold">3</text>
<text x="710.6" y="260.4" font-size="26" text-anchor="end" font-weight="bold">4</text>
<text x="710.6" y="202.7" font-size="26" text-anchor="end" font-weight="bold">5</text>
<text x="710.6" y="145.0" font-size="26" text-anchor="end" font-weight="bold">6</text>
<text x="710.6" y="87.3" font-size="26" text-anchor="end" font-weight="bold">7</text>
<text x="710.6" y="29.6" font-size="26" text-anchor="end" font-weight="bold">8</text>
<text x="734.1" y="523.6" font-size="26" text-anchor="middle" font-weight="bold">20</text>
<text x="824.99" y="523.6" font-size="26" text-anchor="middle" font-weight="bold">70</text>
<text x="915.89" y="523.6" font-size="26" text-anchor="middle" font-weight="bold">120</text>
<text x="1006.78" y="523.6" font-size="26" text-anchor="middle" font-weight="bold">170</text>
<text x="1097.67" y="523.6" font-size="26" text-anchor="middle" font-weight="bold">220</text>
<text x="1188.56" y="523.6" font-size="26" text-anchor="middle" font-weight="bold">270</text>
<text x="988.3" y="557.3" font-size="26.5" text-anchor="middle" font-weight="bold">Concentration (fg/ml)</text>
<text transform="translate(685.2,251) rotate(-90)" font-size="26.4" text-anchor="middle" font-weight="bold" letter-spacing="0.5">F/F<tspan font-size="18" dy="7.3">0</tspan></text>
<text x="756" y="74.5" font-size="47.5" text-anchor="start" font-weight="bold" textLength="25" lengthAdjust="spacingAndGlyphs">b</text>
<text x="1046.3" y="106.2" font-size="26.5" text-anchor="middle" font-weight="bold">y = 0.0201x + 0.925</text>
<text x="1047" y="136.2" font-size="26.3" text-anchor="middle" font-weight="bold">R² = 0.9802</text>
<text x="940.3" y="385.2" font-size="26.5" text-anchor="middle" font-weight="bold">y = 0.0561x - 1.4606</text>
<text x="941" y="415.2" font-size="26.3" text-anchor="middle" font-weight="bold">R² = 0.9905</text>
<rect x="1415.03" y="90.5" width="38.4" height="382.50" fill="#00f700"/>
<rect x="1539.09" y="462.0" width="38.4" height="11.00" fill="#f51010"/>
<rect x="1787.21" y="469.5" width="38.4" height="3.50" fill="#f51010"/>
<rect x="1911.27" y="473.0" width="38.4" height="14.50" fill="#f51010"/>
<path d="M1434.23,75.0 V90.5 M1430.83,75.0 H1437.63" stroke="#505050" stroke-width="1.7" fill="none"/>
<path d="M1558.29,453.3 V462.0 M1554.89,453.3 H1561.69" stroke="#505050" stroke-width="1.7" fill="none"/>
<path d="M1682.35,460.8 V473.0 M1678.95,460.8 H1685.75" stroke="#505050" stroke-width="1.7" fill="none"/>
<path d="M1806.41,450.8 V469.5 M1803.01,450.8 H1809.81" stroke="#505050" stroke-width="1.7" fill="none"/>
<path d="M1930.47,464.5 V486.5 M1927.07,464.5 H1933.87" stroke="#505050" stroke-width="1.7" fill="none"/>
<g stroke="#000" fill="none">
<line x1="1372.2" x2="1372.2" y1="23.68" y2="530.04" stroke-width="2.6"/>
<line x1="1372.2" x2="1992.5" y1="473.0" y2="473.0" stroke-width="1.9" stroke="#1c1c1c"/>
</g>
<g stroke="#000" stroke-width="1.6" fill="none">
<line x1="1372.2" x2="1377.7" y1="529.04" y2="529.04"/>
<line x1="1372.2" x2="1377.7" y1="416.96" y2="416.96"/>
<line x1="1372.2" x2="1377.7" y1="360.92" y2="360.92"/>
<line x1="1372.2" x2="1377.7" y1="304.88" y2="304.88"/>
<line x1="1372.2" x2="1377.7" y1="248.84" y2="248.84"/>
<line x1="1372.2" x2="1377.7" y1="192.80" y2="192.80"/>
<line x1="1372.2" x2="1377.7" y1="136.76" y2="136.76"/>
<line x1="1372.2" x2="1377.7" y1="80.72" y2="80.72"/>
<line x1="1372.2" x2="1377.7" y1="24.68" y2="24.68"/>
<line x1="1434.23" x2="1434.23" y1="473.0" y2="467.5"/>
<line x1="1558.29" x2="1558.29" y1="473.0" y2="467.5"/>
<line x1="1682.35" x2="1682.35" y1="473.0" y2="467.5"/>
<line x1="1806.41" x2="1806.41" y1="473.0" y2="467.5"/>
<line x1="1930.47" x2="1930.47" y1="473.0" y2="467.5"/>
<line x1="1991.7" x2="1991.7" y1="473.0" y2="467.5"/>
</g>
<text x="1349.3" y="538.04" font-size="26" text-anchor="end" font-weight="bold">-0.2</text>
<text x="1349.3" y="482.0" font-size="26" text-anchor="end" font-weight="bold">0</text>
<text x="1349.3" y="425.96" font-size="26" text-anchor="end" font-weight="bold">0.2</text>
<text x="1349.3" y="369.92" font-size="26" text-anchor="end" font-weight="bold">0.4</text>
<text x="1349.3" y="313.88" font-size="26" text-anchor="end" font-weight="bold">0.6</text>
<text x="1349.3" y="257.84" font-size="26" text-anchor="end" font-weight="bold">0.8</text>
<text x="1349.3" y="201.8" font-size="26" text-anchor="end" font-weight="bold">1</text>
<text x="1349.3" y="145.76" font-size="26" text-anchor="end" font-weight="bold">1.2</text>
<text x="1349.3" y="89.72" font-size="26" text-anchor="end" font-weight="bold">1.4</text>
<text x="1349.3" y="33.68" font-size="26" text-anchor="end" font-weight="bold">1.6</text>
<text x="1434.23" y="513.5" font-size="26.4" text-anchor="middle" font-weight="bold">CRP</text>
<text x="1558.29" y="513.5" font-size="26.4" text-anchor="middle" font-weight="bold">BSA</text>
<text x="1682.35" y="513.5" font-size="26.4" text-anchor="middle" font-weight="bold">TNF-a</text>
<text x="1806.41" y="513.5" font-size="26.4" text-anchor="middle" font-weight="bold">Hb</text>
<text x="1930.47" y="513.5" font-size="26.4" text-anchor="middle" font-weight="bold">Herceptin</text>
<text transform="translate(1299.3,258.2) rotate(-90)" font-size="26.4" text-anchor="middle" font-weight="bold" letter-spacing="0.35">(F-F<tspan font-size="18" dy="7.3">0</tspan><tspan dy="-7.3">)/F</tspan><tspan font-size="18" dy="7.3">0</tspan></text>
<text x="1387.5" y="70" font-size="46" text-anchor="start" font-weight="bold" textLength="20.5" lengthAdjust="spacingAndGlyphs">c</text>
</svg>
</body>
</html>
